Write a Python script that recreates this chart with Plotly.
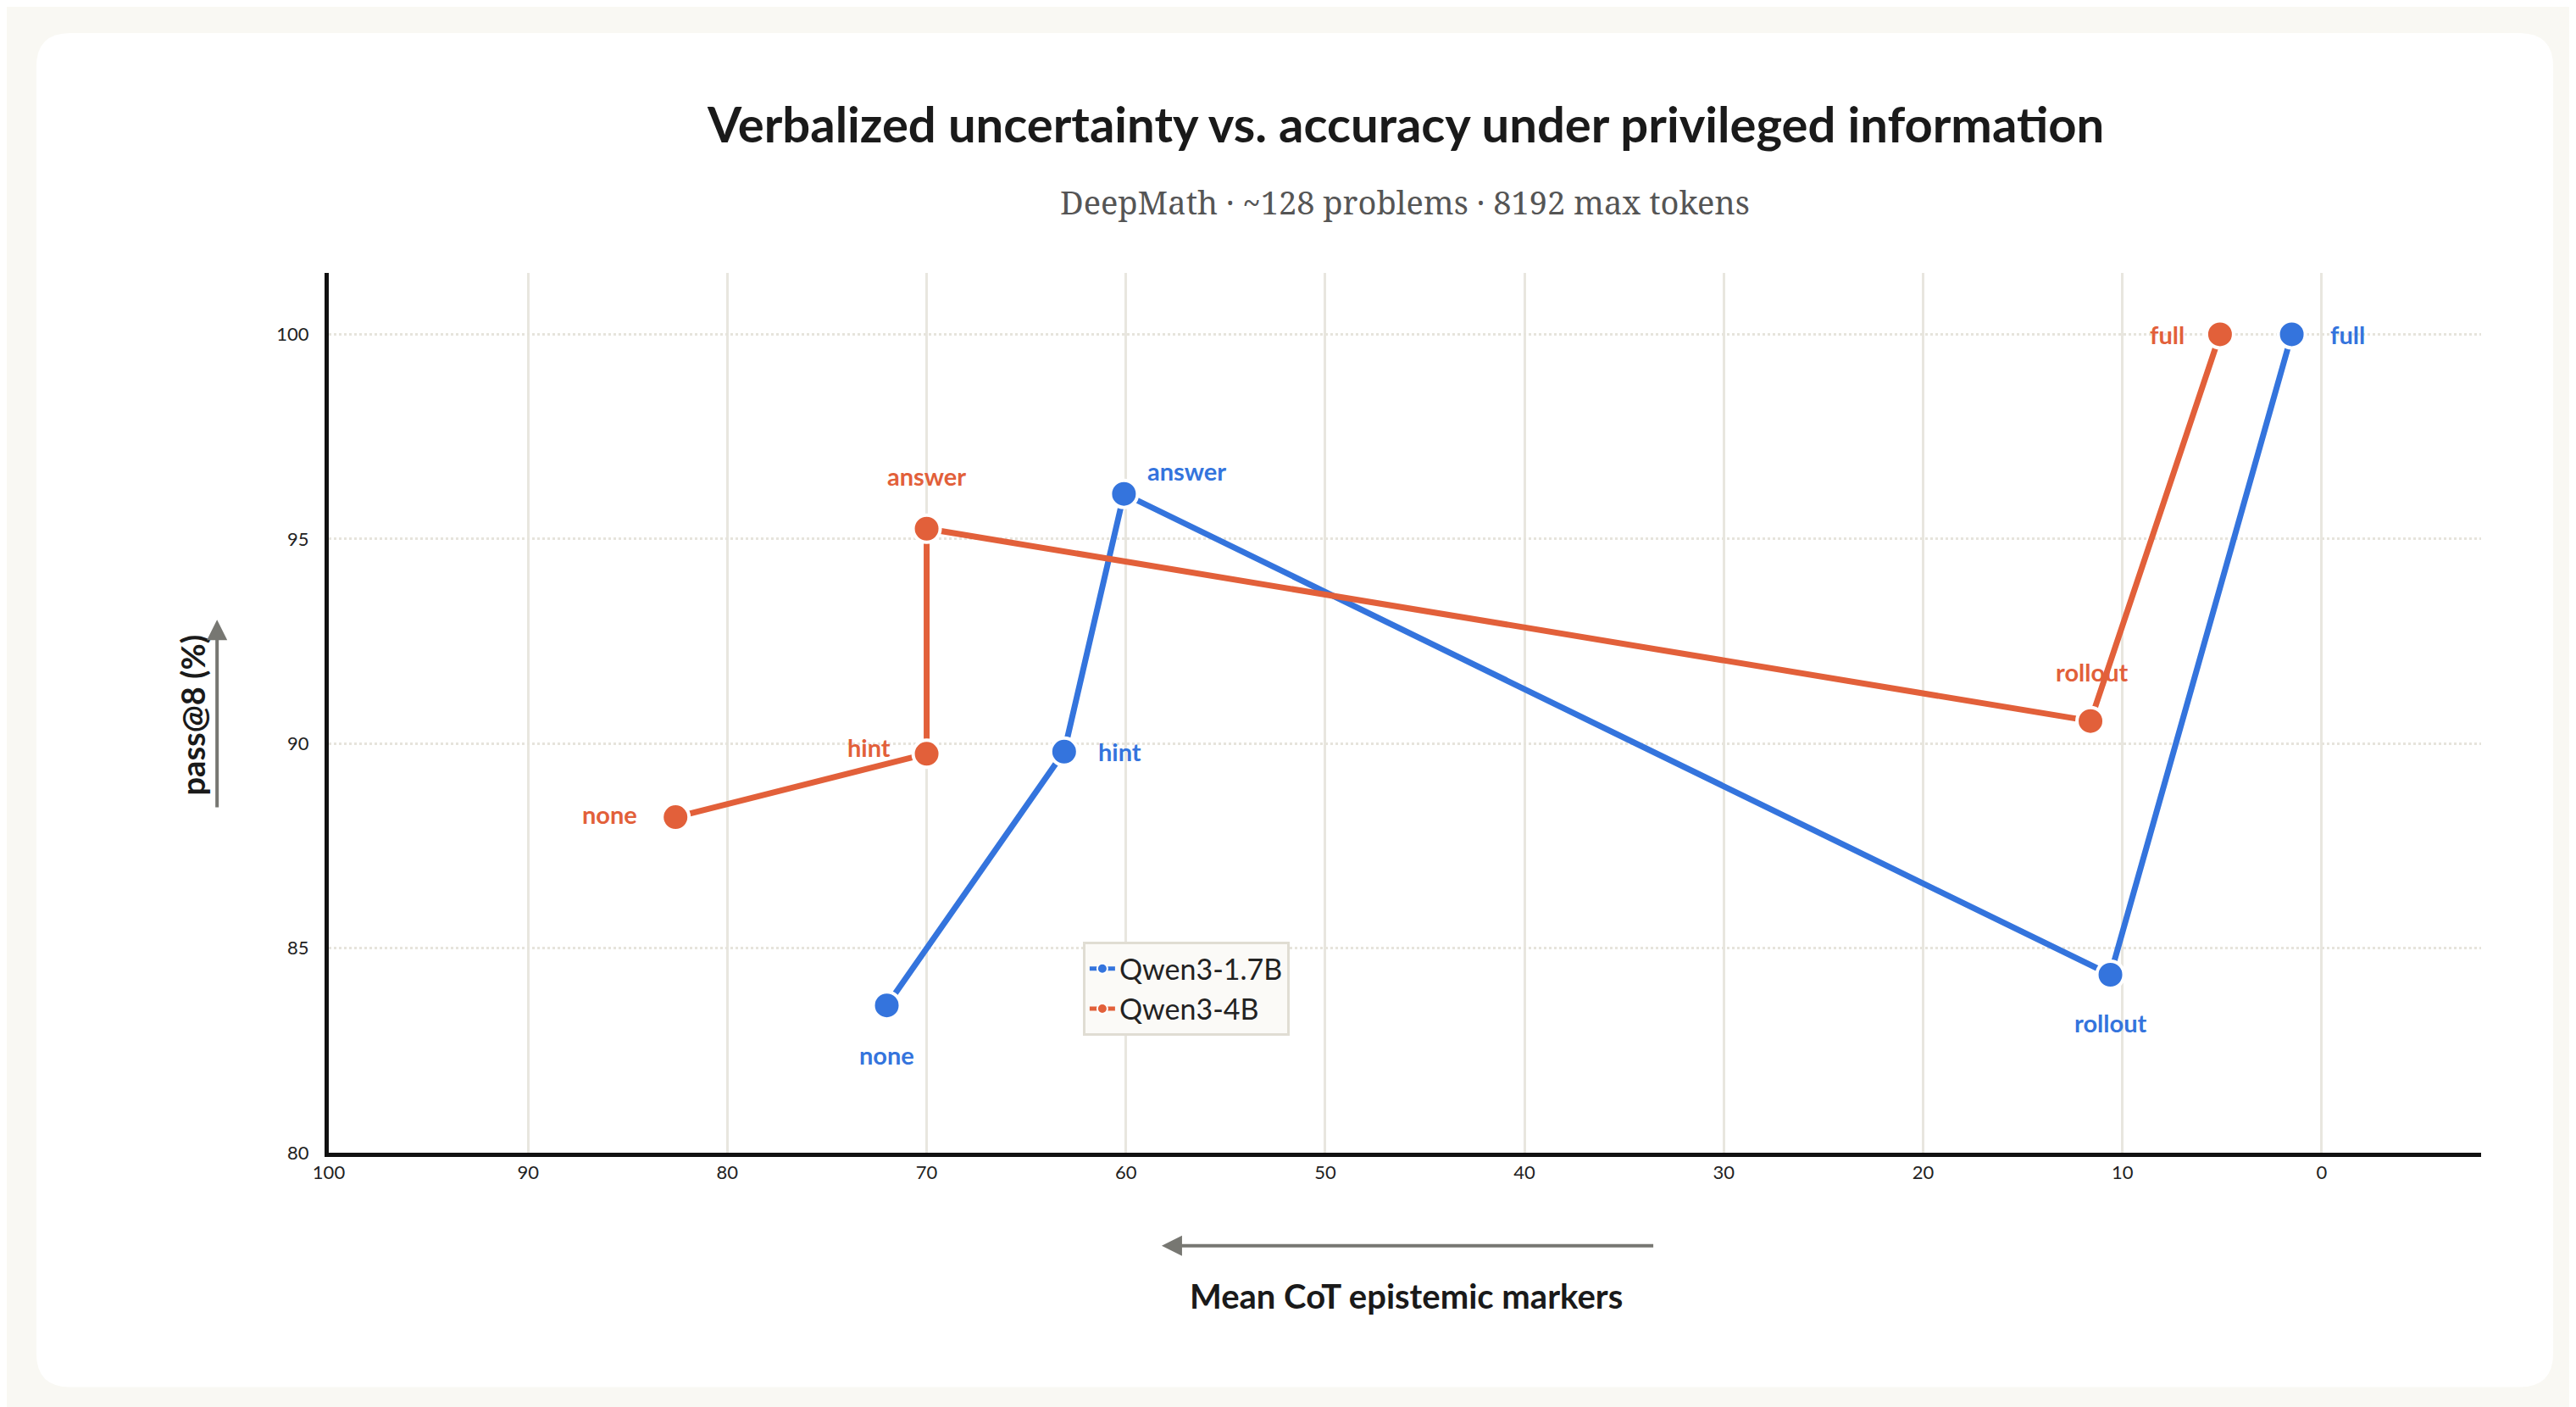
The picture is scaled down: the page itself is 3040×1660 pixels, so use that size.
import plotly.graph_objects as go

# data
conditions = ["none", "hint", "answer", "rollout", "full"]
qwen17_markers = [72.0, 63.1, 60.1, 10.6, 1.5]
qwen17_pass8 = [83.6, 89.8, 96.1, 84.35, 100.0]
qwen4_markers = [82.6, 70.0, 70.0, 11.6, 5.1]
qwen4_pass8 = [88.2, 89.75, 95.25, 90.55, 100.0]

BLUE = "#3474dd"
ORANGE = "#e2603a"
W, H = 3040, 1660
S = W / 1568  # reference display scale
L, R, T, B = 380, 120, 314, 308
PW, PH = W - L - R, H - T - B


def px(x):
    return (x * S - L) / PW


def py(y):
    return (H - B - y * S) / PH


fig = go.Figure()
for name, xs, ys, col in [("Qwen3-1.7B", qwen17_markers, qwen17_pass8, BLUE),
                          ("Qwen3-4B", qwen4_markers, qwen4_pass8, ORANGE)]:
    fig.add_trace(go.Scatter(
        x=xs, y=ys, name=name, mode="lines+markers",
        line=dict(color=col, width=7),
        marker=dict(color=col, size=32, line=dict(color="white", width=4)),
    ))

# point labels: (dx, dy) in display px
blue_off = [(0, 30), (34, 0), (38, -14), (0, 29), (34, 0)]
orange_off = [(-40, -2), (-35, -4), (0, -32), (1, -30), (-32, 0)]
ann = []
for xs, ys, offs, col in [(qwen17_markers, qwen17_pass8, blue_off, BLUE),
                          (qwen4_markers, qwen4_pass8, orange_off, ORANGE)]:
    for c, x, y, (dx, dy) in zip(conditions, xs, ys, offs):
        ann.append(dict(x=x, y=y, text=c, showarrow=False, xshift=dx * S, yshift=-dy * S,
                        font=dict(family="Lato", size=29, color=col, weight="bold")))

ann += [
    dict(x=0.5, y=py(52), xref="paper", yref="paper", showarrow=False,
         text="Verbalized uncertainty vs. accuracy under privileged information",
         font=dict(family="Lato", size=58, color="#1a1a1a", weight="bold")),
    dict(x=0.5, y=py(104), xref="paper", yref="paper", showarrow=False,
         text="DeepMath · ~128 problems · 8192 max tokens",
         font=dict(family="Noto Serif, DejaVu Serif, serif", size=38, color="#555555")),
    dict(x=px(852), y=py(798), xref="paper", yref="paper", showarrow=False,
         text="Mean CoT epistemic markers",
         font=dict(family="Lato", size=40, color="#1a1a1a", weight="bold")),
    dict(x=px(100), y=py(431), xref="paper", yref="paper", showarrow=False, textangle=-90,
         text="pass@8 (%)",
         font=dict(family="Lato", size=38, color="#1a1a1a", weight="bold")),
    # arrows
    dict(x=px(703), y=py(754), ax=300 * S, ay=0, xref="paper", yref="paper",
         text="", showarrow=True, arrowhead=2,
         arrowsize=1.2, arrowwidth=4, arrowcolor="#777772"),
    dict(x=px(128), y=py(373), ax=0, ay=115 * S, xref="paper", yref="paper",
         text="", showarrow=True, arrowhead=2,
         arrowsize=1.2, arrowwidth=4, arrowcolor="#777772"),
]

# rounded white card
x0, x1, y0, y1 = px(18), px(1550), py(840), py(16)
rx, ry = 40 / PW, 40 / PH
card = (f"M {x0+rx},{y0} L {x1-rx},{y0} Q {x1},{y0} {x1},{y0+ry} L {x1},{y1-ry} "
        f"Q {x1},{y1} {x1-rx},{y1} L {x0+rx},{y1} Q {x0},{y1} {x0},{y1-ry} "
        f"L {x0},{y0+ry} Q {x0},{y0} {x0+rx},{y0} Z")
shapes = [dict(type="path", path=card, xref="paper", yref="paper", layer="below",
               fillcolor="white", line=dict(width=0))]

fig.update_layout(
    width=W, height=H,
    margin=dict(l=L, r=R, t=T, b=B),
    paper_bgcolor="#f9f8f3", plot_bgcolor="rgba(0,0,0,0)",
    annotations=ann, shapes=shapes,
    font=dict(family="Lato", color="#222222"),
    legend=dict(x=px(655), y=py(569), xanchor="left", yanchor="top",
                bgcolor="#fbfaf7", bordercolor="#e0ddd3", borderwidth=3,
                font=dict(family="Lato", size=34, color="#222222"),
                itemsizing="constant", tracegroupgap=20),
    xaxis=dict(range=[100, -8], tickvals=list(range(100, -1, -10)),
               showgrid=True, gridcolor="#e8e6df", gridwidth=3, zeroline=False,
               showline=True, linecolor="#111111", linewidth=5,
               tickfont=dict(size=22, color="#222222"), ticks=""),
    yaxis=dict(range=[80, 101.5], tickvals=[80, 85, 90, 95, 100],
               showgrid=True, gridcolor="#e6e4dc", gridwidth=3, griddash="dot",
               zeroline=False, showline=True, linecolor="#111111", linewidth=5,
               tickfont=dict(size=22, color="#222222"), ticks="", ticklabelstandoff=14),
)
fig.write_html("out.html")
